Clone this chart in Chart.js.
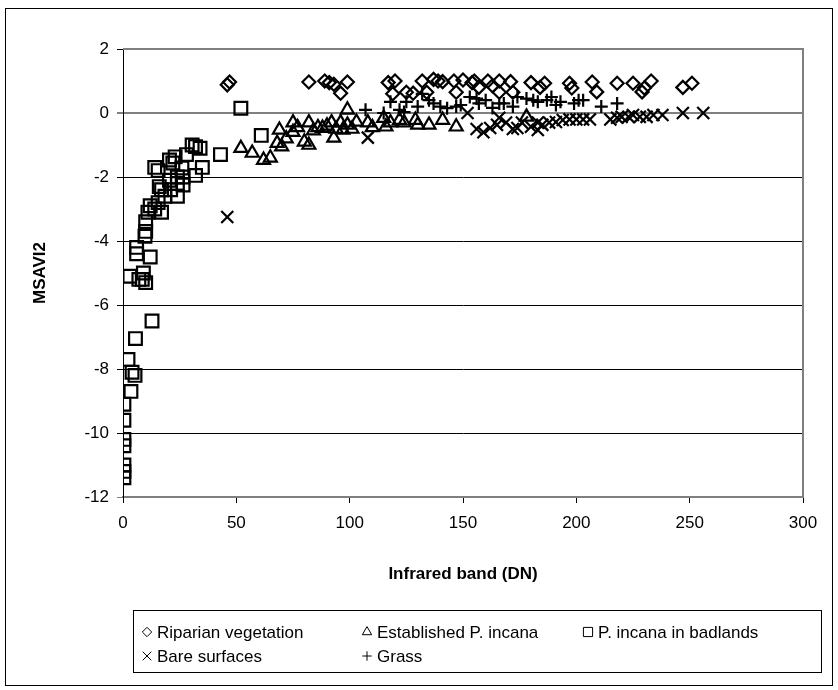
<!DOCTYPE html>
<html>
<head>
<meta charset="utf-8">
<script src="https://cdn.jsdelivr.net/npm/chart.js@4.4.1/dist/chart.umd.min.js"></script>
<style>
  html, body { margin: 0; padding: 0; background: #fff; }
  canvas { display: block; }
</style>
</head>
<body>
<canvas id="chart" width="838" height="690"></canvas>
<script>
// Riparian vegetation
const ripX = [46, 47, 82, 89, 91, 93, 96, 99, 117, 119, 120, 125, 128, 132, 134, 137, 139, 141, 146, 147, 150, 154, 155, 157, 161, 163, 166, 166, 171, 172, 180, 184, 186, 197, 198, 207, 209, 218, 225, 229, 230, 233, 247, 251];
const ripY = [0.88, 0.97, 0.97, 1.0, 0.95, 0.9, 0.62, 0.97, 0.95, 0.6, 1.0, 0.65, 0.62, 1.0, 0.65, 1.05, 1.0, 0.98, 1.0, 0.65, 1.03, 0.95, 1.0, 0.8, 1.0, 0.85, 1.0, 0.65, 0.98, 0.65, 0.95, 0.8, 0.93, 0.93, 0.78, 0.97, 0.66, 0.93, 0.93, 0.66, 0.78, 1.0, 0.8, 0.93];

// Established P. incana
const estX = [52, 57, 62, 65, 68, 69, 70, 72, 75, 75, 77, 80, 82, 82, 84, 86, 88, 90, 92, 93, 94, 96, 97, 99, 99, 101, 103, 108, 110, 115, 116, 118, 122, 124, 129, 130, 135, 141, 147, 178];
const estY = [-1.1, -1.25, -1.47, -1.4, -0.94, -0.53, -1.05, -0.8, -0.3, -0.6, -0.45, -0.9, -0.3, -1.0, -0.55, -0.45, -0.47, -0.4, -0.3, -0.78, -0.5, -0.3, -0.53, 0.1, -0.37, -0.5, -0.28, -0.3, -0.45, -0.16, -0.43, -0.3, -0.22, -0.3, -0.22, -0.37, -0.37, -0.22, -0.43, -0.12];

// P. incana in badlands
const badX = [52, 61, 43, 30.5, 32, 34, 28, 23, 20.5, 22, 26, 15.5, 14, 35, 32, 26.5, 24, 20.5, 24, 16, 26.5, 21, 17, 18.5, 24, 15.5, 12, 14, 11, 17, 10, 10, 9.7, 6, 6, 12, 3, 9, 8.5, 10, 7, 12.8, 5.5, 2.2, 4, 5.3, 3.5, 0.4, 0.4, 0.4, 0.4, 0.4, 0.4, 0.4];
const badY = [0.15, -0.7, -1.3, -1.0, -1.05, -1.1, -1.3, -1.37, -1.47, -1.56, -1.72, -1.8, -1.7, -1.7, -1.95, -2.0, -2.0, -2.1, -2.2, -2.3, -2.25, -2.4, -2.4, -2.6, -2.6, -2.8, -2.9, -3.0, -3.1, -3.1, -3.4, -3.7, -3.85, -4.2, -4.4, -4.5, -5.1, -5.0, -5.2, -5.3, -5.2, -6.5, -7.05, -7.7, -8.1, -8.2, -8.7, -9.1, -9.6, -10.2, -10.4, -11.0, -11.2, -11.4];

// Bare surfaces
const bareX = [46, 108, 152, 156, 159, 162, 165, 166, 169, 172, 174, 176, 180, 183, 183, 185, 188, 191, 194, 197, 200, 203, 206, 215, 218, 220, 223, 225, 228, 231, 234, 238, 247, 256];
const bareY = [-3.25, -0.77, 0.0, -0.5, -0.6, -0.47, -0.37, -0.15, -0.3, -0.5, -0.47, -0.3, -0.43, -0.3, -0.53, -0.37, -0.3, -0.28, -0.22, -0.2, -0.2, -0.2, -0.2, -0.2, -0.15, -0.12, -0.12, -0.06, -0.12, -0.12, -0.06, -0.06, 0.0, 0.0];

// Grass
const grassX = [107, 115, 118, 122, 124, 125, 130, 132, 135, 137, 140, 143, 147, 149, 153, 156, 157, 160, 163, 166, 168, 172, 174, 178, 181, 183, 187, 189, 191, 193, 199, 201, 203, 211, 218];
const grassY = [0.1, 0.0, 0.35, 0.1, 0.03, 0.35, 0.2, 0.6, 0.4, 0.3, 0.2, 0.15, 0.2, 0.25, 0.5, 0.45, 0.3, 0.4, 0.16, 0.3, 0.3, 0.2, 0.5, 0.45, 0.4, 0.35, 0.4, 0.5, 0.25, 0.35, 0.3, 0.4, 0.4, 0.2, 0.3];

const seriesNames = ['Riparian vegetation', 'Established P. incana', 'P. incana in badlands', 'Bare surfaces', 'Grass'];
const xTicks = [0, 50, 100, 150, 200, 250, 300];
const yTicks = [-12, -10, -8, -6, -4, -2, 0, 2];

const FONT = 'Liberation Sans, Arial, sans-serif';

function pts(xs, ys) {
  return xs.map((x, i) => ({ x: x, y: ys[i] }));
}

const styles = [
  { pointStyle: 'rectRot', radius: 6.5 },
  { pointStyle: 'triangle', radius: 7.5 },
  { pointStyle: 'rect', radius: 9 },
  { pointStyle: 'crossRot', radius: 8.5 },
  { pointStyle: 'cross', radius: 6.5 }
];

const allData = [pts(ripX, ripY), pts(estX, estY), pts(badX, badY), pts(bareX, bareY), pts(grassX, grassY)];

const datasets = allData.map((d, i) => ({
  label: seriesNames[i],
  data: d,
  pointStyle: styles[i].pointStyle,
  pointRadius: styles[i].radius,
  pointBorderColor: '#000',
  pointBackgroundColor: 'rgba(0,0,0,0)',
  pointBorderWidth: 2.2,
  showLine: false
}));

// frame, plot border and legend drawn on the canvas
const framePlugin = {
  id: 'frame',
  afterDraw(chart) {
    const ctx = chart.ctx;
    const a = chart.chartArea;
    ctx.save();

    ctx.strokeStyle = '#808080';
    ctx.lineWidth = 2;
    ctx.beginPath();
    ctx.moveTo(a.left, a.top);
    ctx.lineTo(a.right, a.top);
    ctx.lineTo(a.right, a.bottom);
    ctx.stroke();

    ctx.strokeStyle = '#000';
    ctx.lineWidth = 1;
    ctx.strokeRect(5.5, 8.5, 827, 677);

    // legend box
    ctx.strokeRect(133.5, 610.5, 688, 62);
    const rows = [632, 656];
    const cols = [147, 367, 588];
    ctx.font = '17px ' + FONT;
    ctx.textBaseline = 'middle';
    ctx.textAlign = 'left';
    seriesNames.forEach((name, i) => {
      const cx = cols[i % 3];
      const cy = rows[Math.floor(i / 3)];
      ctx.strokeStyle = '#000';
      ctx.fillStyle = 'rgba(0,0,0,0)';
      Chart.helpers.drawPoint(ctx, {
        pointStyle: styles[i].pointStyle,
        radius: styles[i].radius * 0.72,
        rotation: 0,
        borderWidth: 1.8
      }, cx, cy);
      ctx.fillStyle = '#000';
      ctx.fillText(name, cx + 10, cy + 1);
    });
    ctx.restore();
  }
};

new Chart(document.getElementById('chart'), {
  type: 'scatter',
  data: { datasets: datasets },
  options: {
    responsive: false,
    animation: false,
    devicePixelRatio: 1,
    layout: { padding: { left: 5, top: 49, right: 35, bottom: 98 } },
    plugins: {
      legend: { display: false },
      tooltip: { enabled: false }
    },
    scales: {
      x: {
        type: 'linear',
        min: 0,
        max: 300,
        afterBuildTicks: s => { s.ticks = xTicks.map(v => ({ value: v })); },
        afterFit: s => { s.height = 95; },
        ticks: { color: '#000', font: { family: FONT, size: 17 }, padding: 10, maxRotation: 0 },
        grid: { drawOnChartArea: false, drawTicks: true, tickLength: 6, color: '#000' },
        border: { color: '#808080', width: 2 },
        title: {
          display: true,
          text: 'Infrared band (DN)',
          color: '#000',
          font: { family: FONT, size: 17, weight: 'bold' },
          padding: { top: 0, bottom: 7 }
        }
      },
      y: {
        type: 'linear',
        min: -12,
        max: 2,
        afterBuildTicks: s => { s.ticks = yTicks.map(v => ({ value: v })); },
        afterFit: s => { s.width = 118; },
        ticks: { color: '#000', font: { family: FONT, size: 17 }, padding: 8 },
        grid: {
          tickLength: 6,
          color: c => (c.tick && (c.tick.value === 0 || c.tick.value === -12)) ? '#808080' : '#000',
          lineWidth: c => (c.tick && c.tick.value === 0) ? 2 : 1
        },
        border: { color: '#000', width: 1 },
        title: {
          display: true,
          text: 'MSAVI2',
          color: '#000',
          font: { family: FONT, size: 17, weight: 'bold' },
          padding: { top: 25, bottom: 0 }
        }
      }
    }
  },
  plugins: [framePlugin]
});
</script>
</body>
</html>
